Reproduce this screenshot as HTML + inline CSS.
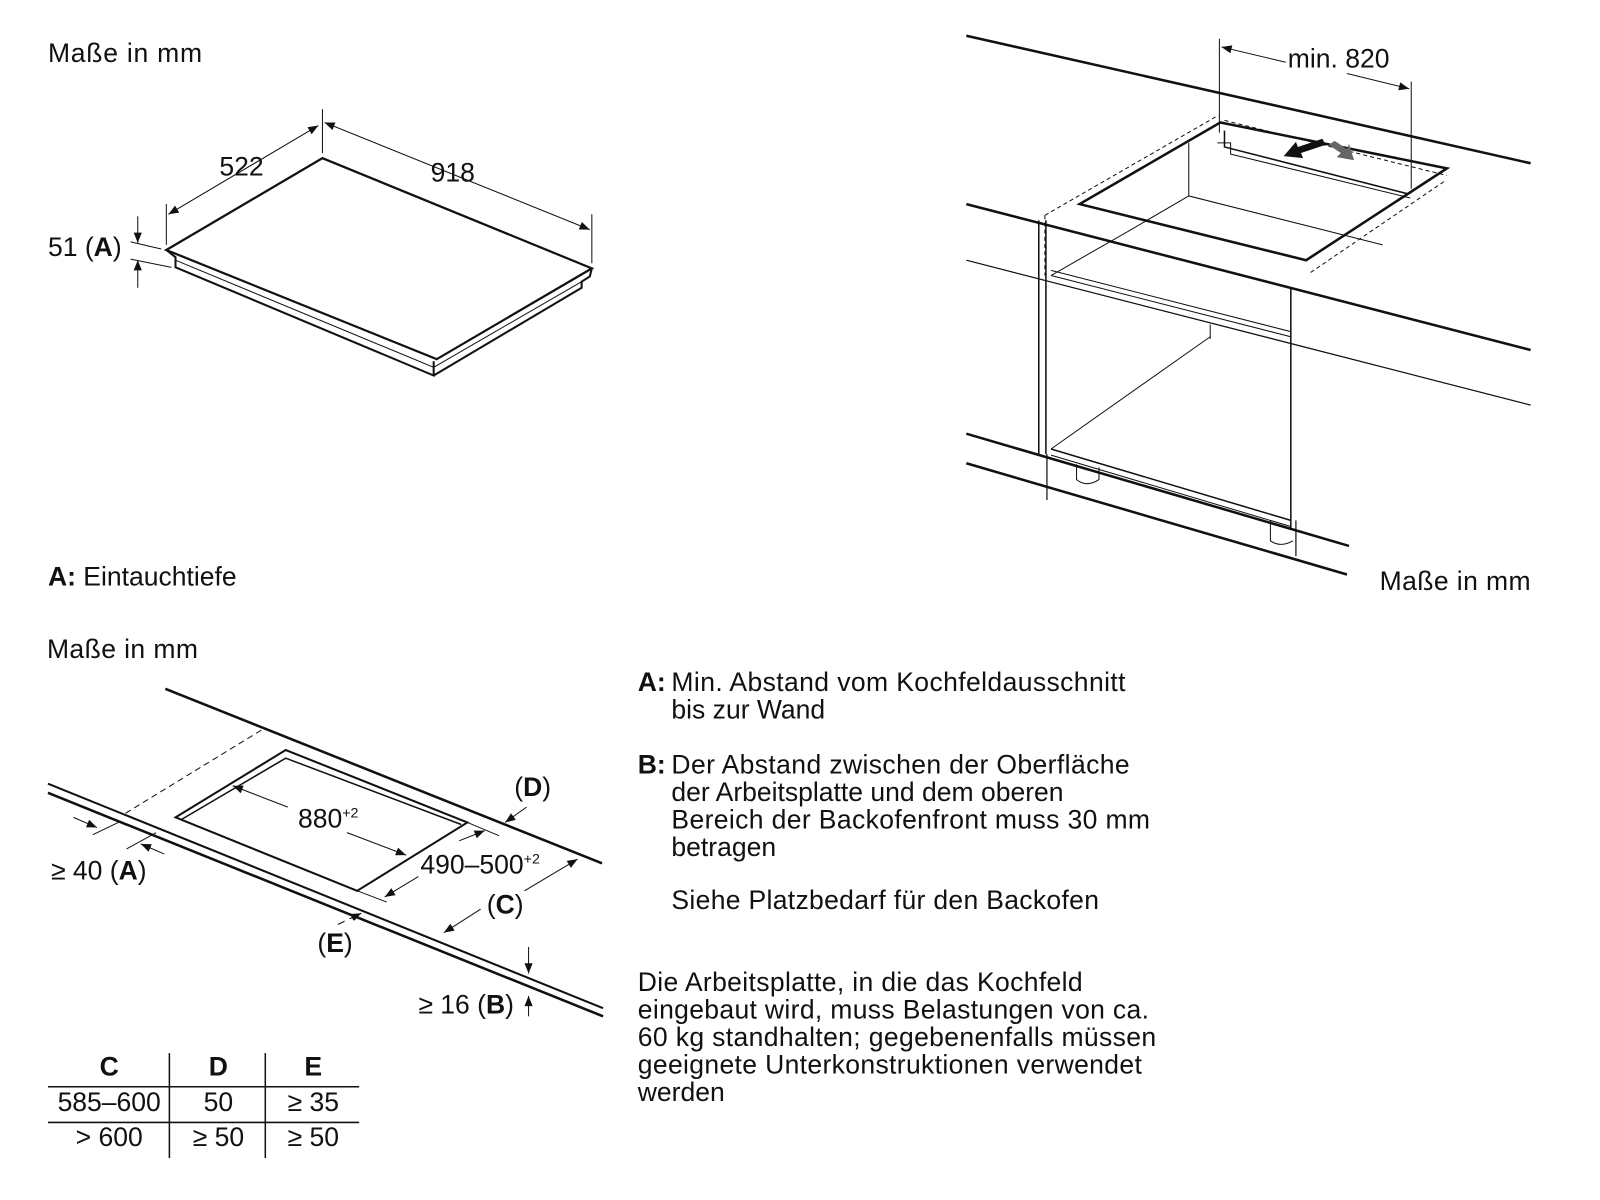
<!DOCTYPE html>
<html><head><meta charset="utf-8"><style>
html,body{margin:0;padding:0;background:#fff;width:1600px;height:1200px;overflow:hidden}
svg text{font-family:"Liberation Sans",sans-serif;fill:#111}
</style></head><body>
<svg width="1600" height="1200" viewBox="0 0 1568 1176" preserveAspectRatio="none" xmlns="http://www.w3.org/2000/svg">
<defs>
<marker id="a" viewBox="0 0 10 10" refX="10" refY="5" markerWidth="14" markerHeight="10" markerUnits="userSpaceOnUse" orient="auto-start-reverse"><path d="M0,1 L10,5 L0,9z" fill="#111"/></marker>
</defs>
<g font-size="26">
<text x="47" y="61" textLength="151">Maße in mm</text>
<text x="47" y="574"><tspan font-weight="bold">A:</tspan> Eintauchtiefe</text>
<text x="46" y="645" textLength="148">Maße in mm</text>
<text x="1352" y="578" textLength="148">Maße in mm</text>
<text x="1262" y="66">min. 820</text>
<text x="215" y="172">522</text>
<text x="422" y="178">918</text>
<text x="47" y="251">51 (<tspan font-weight="bold">A</tspan>)</text>
</g>
<!-- Top-left hob -->
<g stroke="#111" fill="none" stroke-width="2">
<path d="M163,245 L316,155 L580,263 L428,352 Z" stroke-width="2.2"/>
<path d="M163,245 L172,252 L172,262 L425,368 L425,354"/>
<path d="M580,263 L578,271 L570,276 L570,282 L425,368"/>
<path d="M172,255 L425,360 L570,276" stroke-width="1"/>
<line x1="163" y1="240" x2="163" y2="200" stroke-width="1"/>
<line x1="316" y1="150" x2="316" y2="107" stroke-width="1"/>
<line x1="580" y1="258" x2="580" y2="210" stroke-width="1"/>
<line x1="165" y1="210" x2="312" y2="123" stroke-width="1" marker-start="url(#a)" marker-end="url(#a)"/>
<line x1="318" y1="120" x2="578" y2="225" stroke-width="1" marker-start="url(#a)" marker-end="url(#a)"/>
<line x1="128" y1="237" x2="158" y2="244" stroke-width="1"/>
<line x1="128" y1="254" x2="168" y2="262" stroke-width="1"/>
<line x1="135" y1="212" x2="135" y2="238" stroke-width="1" marker-end="url(#a)"/>
<line x1="135" y1="282" x2="135" y2="255" stroke-width="1" marker-end="url(#a)"/>
</g>
<!-- Top-right installation -->
<g stroke="#111" fill="none" stroke-width="2">
<line x1="947" y1="35" x2="1500" y2="160" stroke-width="2.5"/>
<line x1="947" y1="200" x2="1500" y2="343" stroke-width="2.5"/>
<line x1="947" y1="255" x2="1500" y2="397" stroke-width="1.2"/>
<line x1="947" y1="425" x2="1322" y2="535" stroke-width="2.5"/>
<line x1="947" y1="454" x2="1320" y2="563" stroke-width="2.5"/>
<path d="M1058,200 L1196,120 L1418,165 L1280,255 Z" stroke-width="2.5"/>
<path d="M1200,128 L1200,144 L1380,190" stroke-width="1.5"/>
<path d="M1193,140 L1206,140 L1206,151 L1382,194" stroke-width="1"/>
<path d="M1165,140 L1165,192 L1355,240" stroke-width="1"/>
<line x1="1165" y1="192" x2="1105" y2="227" stroke-width="1"/>
<path d="M1024,211 L1194,113 M1415,178 L1283,268 M1024,211 L1024,270" stroke-dasharray="4,3" stroke-width="1"/>
<line x1="1200" y1="118" x2="1418" y2="172" stroke-dasharray="4,3" stroke-width="1"/>
<line x1="1018" y1="216" x2="1018" y2="445" stroke-width="1.5"/>
<line x1="1025" y1="216" x2="1025" y2="445" stroke-width="1.5"/>
<line x1="1026" y1="490" x2="1026" y2="445" stroke-width="1.2"/>
<line x1="1265" y1="283" x2="1265" y2="517" stroke-width="1.5"/>
<line x1="1270" y1="510" x2="1270" y2="545" stroke-width="1.2"/>
<line x1="1030" y1="270" x2="1265" y2="330" stroke-width="1"/>
<line x1="1030" y1="265" x2="1265" y2="325" stroke-width="1"/>
<line x1="1030" y1="270" x2="1105" y2="227" stroke-width="1"/>
<line x1="1030" y1="440" x2="1265" y2="510" stroke-width="1.5"/>
<line x1="1030" y1="446" x2="1265" y2="516" stroke-width="1"/>
<line x1="1030" y1="440" x2="1186" y2="330" stroke-width="1"/>
<line x1="1186" y1="318" x2="1186" y2="332" stroke-width="1"/>
<path d="M1055,455 L1055,470 Q1065,478 1077,470 L1077,458" stroke-width="1"/>
<path d="M1245,510 L1245,530 Q1255,537 1267,530" stroke-width="1"/>
<line x1="1195" y1="38" x2="1195" y2="130" stroke-width="1"/>
<line x1="1383" y1="80" x2="1383" y2="185" stroke-width="1"/>
<line x1="1260" y1="61" x2="1197" y2="46" stroke-width="1" marker-end="url(#a)"/>
<line x1="1320" y1="72" x2="1381" y2="87" stroke-width="1" marker-end="url(#a)"/>
</g>
<path d="M1258,153 L1270,139 L1272,144 L1296,136 L1299,142 L1275,150 L1277,155 Z" fill="#111"/>
<path d="M1327,157 L1310,154 L1314,150 L1302,142 L1308,138 L1320,146 L1322,141 Z" fill="#666"/>
<!-- Bottom-left cutout -->
<g stroke="#111" fill="none" stroke-width="2">
<line x1="162" y1="675" x2="590" y2="846" stroke-width="2.5"/>
<line x1="47" y1="768" x2="591" y2="988" stroke-width="2"/>
<line x1="47" y1="777" x2="591" y2="996" stroke-width="2.5"/>
<path d="M172,801 L280,735 L458,806 L350,873 Z" stroke-width="2"/>
<path d="M178,803 L280,743 L452,808" stroke-width="1.5"/>
<line x1="123" y1="797" x2="257" y2="715" stroke-dasharray="6,4" stroke-width="1"/>
<line x1="282" y1="791" x2="228" y2="770" stroke-width="1" marker-end="url(#a)"/>
<line x1="340" y1="816" x2="398" y2="838" stroke-width="1" marker-end="url(#a)"/>
<line x1="458" y1="806" x2="489" y2="819" stroke-width="1"/>
<line x1="350" y1="873" x2="379" y2="884" stroke-width="1"/>
<line x1="450" y1="824" x2="475" y2="814" stroke-width="1" marker-end="url(#a)"/>
<line x1="410" y1="859" x2="377" y2="879" stroke-width="1" marker-end="url(#a)"/>
<line x1="514" y1="873" x2="566" y2="842" stroke-width="1" marker-end="url(#a)"/>
<line x1="471" y1="891" x2="435" y2="914" stroke-width="1" marker-end="url(#a)"/>
<line x1="516" y1="791" x2="495" y2="806" stroke-width="1" marker-end="url(#a)"/>
<line x1="331" y1="906" x2="354" y2="895" stroke-width="1" marker-end="url(#a)"/>
<line x1="72" y1="801" x2="95" y2="811" stroke-width="1" marker-end="url(#a)"/>
<line x1="91" y1="818" x2="116" y2="806" stroke-width="1"/>
<line x1="124" y1="832" x2="153" y2="816" stroke-width="1"/>
<line x1="161" y1="837" x2="138" y2="827" stroke-width="1" marker-end="url(#a)"/>
<line x1="518" y1="928" x2="518" y2="954" stroke-width="1" marker-end="url(#a)"/>
<line x1="518" y1="996" x2="518" y2="976" stroke-width="1" marker-end="url(#a)"/>
</g>
<line x1="338" y1="902" x2="352" y2="907" stroke="#fff" stroke-width="6"/>
<g font-size="26">
<text x="292" y="811">880<tspan font-size="14" dy="-10">+2</tspan></text>
<text x="412" y="856">490–500<tspan font-size="14" dy="-10">+2</tspan></text>
<text x="504" y="780">(<tspan font-weight="bold">D</tspan>)</text>
<text x="477" y="895">(<tspan font-weight="bold">C</tspan>)</text>
<text x="311" y="933">(<tspan font-weight="bold">E</tspan>)</text>
<text x="50" y="862">≥ 40 (<tspan font-weight="bold">A</tspan>)</text>
<text x="410" y="993">≥ 16 (<tspan font-weight="bold">B</tspan>)</text>
</g>
<!-- Table -->
<g font-size="26" text-anchor="middle">
<text x="107" y="1054" font-weight="bold">C</text>
<text x="214" y="1054" font-weight="bold">D</text>
<text x="307" y="1054" font-weight="bold">E</text>
<text x="107" y="1089">585–600</text>
<text x="214" y="1089">50</text>
<text x="307" y="1089">≥ 35</text>
<text x="107" y="1123">&gt; 600</text>
<text x="214" y="1123">≥ 50</text>
<text x="307" y="1123">≥ 50</text>
</g>
<g stroke="#111" stroke-width="1.5">
<line x1="47" y1="1065" x2="352" y2="1065"/>
<line x1="47" y1="1100" x2="352" y2="1100"/>
<line x1="166" y1="1032" x2="166" y2="1135"/>
<line x1="260" y1="1032" x2="260" y2="1135"/>
</g>
<!-- Right text -->
<g font-size="26">
<text x="625" y="677"><tspan font-weight="bold">A:</tspan></text>
<text x="658" y="677" textLength="445">Min. Abstand vom Kochfeldausschnitt</text>
<text x="658" y="704">bis zur Wand</text>
<text x="625" y="758"><tspan font-weight="bold">B:</tspan></text>
<text x="658" y="758" textLength="449">Der Abstand zwischen der Oberfläche</text>
<text x="658" y="785">der Arbeitsplatte und dem oberen</text>
<text x="658" y="812" textLength="469">Bereich der Backofenfront muss 30 mm</text>
<text x="658" y="839">betragen</text>
<text x="658" y="891" textLength="419">Siehe Platzbedarf für den Backofen</text>
<text x="625" y="971" textLength="436">Die Arbeitsplatte, in die das Kochfeld</text>
<text x="625" y="998" textLength="501">eingebaut wird, muss Belastungen von ca.</text>
<text x="625" y="1025" textLength="508">60 kg standhalten; gegebenenfalls müssen</text>
<text x="625" y="1052" textLength="494">geeignete Unterkonstruktionen verwendet</text>
<text x="625" y="1079">werden</text>
</g>
</svg>
</body></html>
